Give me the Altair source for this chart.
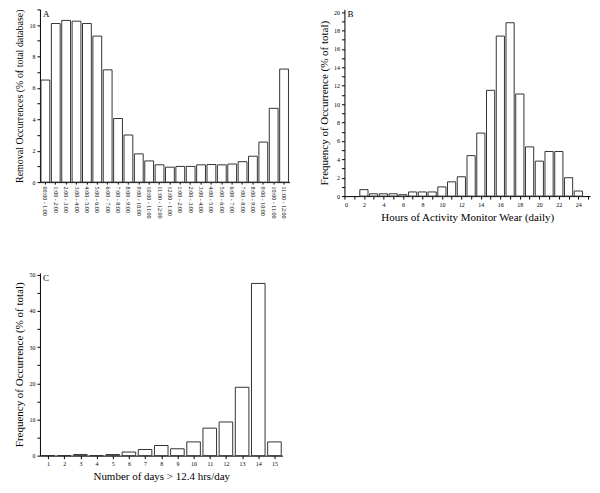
import altair as alt
import pandas as pd

FONT = "Liberation Serif"

a_labels = ["00:00 - 1:00", "1:00 - 2:00", "2:00 - 3:00", "3:00 - 4:00", "4:00 - 5:00",
            "5:00 - 6:00", "6:00 - 7:00", "7:00 - 8:00", "8:00 - 9:00", "9:00 - 10:00",
            "10:00 - 11:00", "11:00 - 12:00", "12:00 - 1:00", "1:00 - 2:00", "2:00 - 3:00",
            "3:00 - 4:00", "4:00 - 5:00", "5:00 - 6:00", "6:00 - 7:00", "7:00 - 8:00",
            "8:00 - 9:00", "9:00 - 10:00", "10:00 - 11:00", "11:00 - 12:00"]
a_values = [6.5, 10.1, 10.3, 10.25, 10.1, 9.3, 7.15, 4.05, 3.0, 1.8, 1.35, 1.1,
            0.95, 1.0, 1.0, 1.1, 1.12, 1.1, 1.15, 1.3, 1.65, 2.55, 4.7, 7.2]

b_hours = list(range(2, 25))
b_values = [0.7, 0.25, 0.25, 0.25, 0.15, 0.45, 0.45, 0.45, 1.0, 1.55, 2.1, 4.4,
            6.85, 11.5, 17.4, 18.85, 11.1, 5.35, 3.8, 4.85, 4.85, 2.0, 0.55]

c_days = list(range(1, 16))
c_values = [0, 0, 0.3, 0, 0.3, 1.0, 1.7, 2.8, 1.9, 3.8, 7.6, 9.3, 18.9, 47.6, 3.8]

bar_style = dict(fill="white", stroke="#333333", strokeWidth=1)


def letter(t):
    return alt.Chart(pd.DataFrame({"t": [t]})).mark_text(
        align="left", baseline="top", font=FONT, fontSize=9, color="black"
    ).encode(text="t:N", x=alt.value(3), y=alt.value(1))


# Panel A
dfA = pd.DataFrame({"idx": list(range(len(a_values))), "v": a_values})
labels_js = "[" + ",".join("'%s'" % s for s in a_labels) + "]"
barsA = alt.Chart(dfA).mark_bar(**bar_style).encode(
    x=alt.X("idx:O", scale=alt.Scale(paddingInner=0.15, paddingOuter=0.1),
            axis=alt.Axis(title=None, labelExpr=labels_js + "[datum.value]",
                          labelAngle=90, labelFontSize=6, tickSize=2)),
    y=alt.Y("v:Q", scale=alt.Scale(domain=[0, 11], nice=False),
            axis=alt.Axis(values=list(range(0, 12)),
                          labelExpr="datum.value % 2 == 0 ? datum.label : ''",
                          title="Removal Occurrences (% of total database)",
                          titleFontSize=10)),
)
chartA = alt.layer(barsA, letter("A")).properties(width=250, height=173)

# Panel B
dfB = pd.DataFrame({"h": b_hours, "v": b_values})
barsB = alt.Chart(dfB).transform_calculate(
    x0="datum.h - 0.42", x1="datum.h + 0.42"
).mark_bar(**bar_style).encode(
    x=alt.X("x0:Q", scale=alt.Scale(domain=[0, 25.2], nice=False),
            axis=alt.Axis(values=list(range(0, 26)),
                          labelExpr="datum.value % 2 == 0 ? datum.label : ''",
                          title="Hours of Activity Monitor Wear (daily)")),
    x2="x1:Q",
    y=alt.Y("v:Q", scale=alt.Scale(domain=[0, 20.3], nice=False),
            axis=alt.Axis(values=list(range(0, 21)),
                          labelExpr="datum.value % 2 == 0 ? datum.label : ''",
                          title="Frequency of Occurrence (% of total)")),
    y2=alt.datum(0),
)
chartB = alt.layer(barsB, letter("B")).properties(width=246, height=187)

# Panel C
dfC = pd.DataFrame({"d": c_days, "v": c_values})
barsC = alt.Chart(dfC).transform_calculate(
    x0="datum.d - 0.42", x1="datum.d + 0.42"
).mark_bar(**bar_style).encode(
    x=alt.X("x0:Q", scale=alt.Scale(domain=[0.5, 15.5], nice=False),
            axis=alt.Axis(values=c_days, title="Number of days > 12.4 hrs/day")),
    x2="x1:Q",
    y=alt.Y("v:Q", scale=alt.Scale(domain=[0, 50.5], nice=False),
            axis=alt.Axis(values=list(range(0, 51, 5)),
                          labelExpr="datum.value % 10 == 0 ? datum.label : ''",
                          title="Frequency of Occurrence (% of total)")),
    y2=alt.datum(0),
)
chartC = alt.layer(barsC, letter("C")).properties(width=243, height=183)

top = alt.hconcat(chartA, chartB, spacing=55, bounds="flush")
chart = alt.vconcat(top, chartC, spacing=49).properties(
    padding={"left": 6, "top": 0, "right": 2, "bottom": 2},
    background="white",
).configure_view(stroke=None).configure_axis(
    labelFont=FONT, titleFont=FONT, labelFontSize=6, titleFontSize=11,
    titleFontWeight="normal", labelColor="black", titleColor="black",
    domainColor="black", tickColor="black", grid=False, tickSize=3,
    labelPadding=2, titlePadding=4
)

chart.save("out.html", embed_options={"renderer": "svg", "actions": False})
